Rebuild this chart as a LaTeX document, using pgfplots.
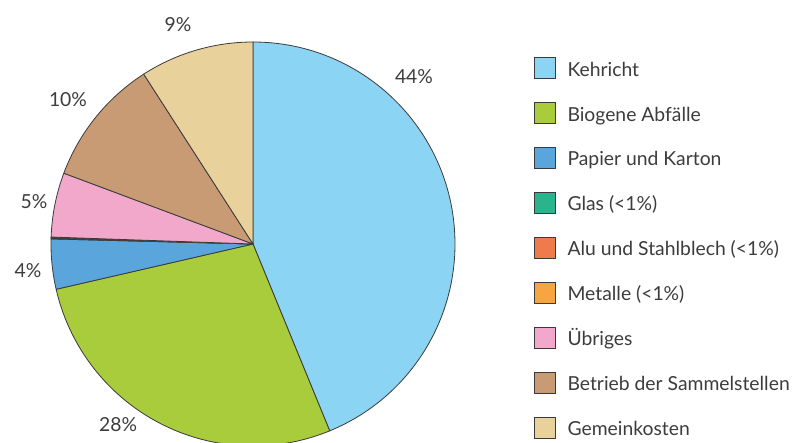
\documentclass[border=0pt]{standalone}
\usepackage{pgfplots}
\pgfplotsset{compat=1.18}
\usepackage{fontspec}
\setmainfont{Lato}
\definecolor{edgec}{HTML}{3A3A3A}
\definecolor{txt}{HTML}{3C3C3C}
\definecolor{c1}{HTML}{8CD4F4}
\definecolor{c2}{HTML}{A9CC3C}
\definecolor{c3}{HTML}{5AA5DC}
\definecolor{c4}{HTML}{2BB38E}
\definecolor{c5}{HTML}{EF7A4C}
\definecolor{c6}{HTML}{F7A541}
\definecolor{c7}{HTML}{F2A8CB}
\definecolor{c8}{HTML}{C99B74}
\definecolor{c9}{HTML}{E8D19B}
\def\R{151.5pt}
% sector: cumulative start (%), cumulative end (%), colour
\newcommand{\sector}[3]{%
  \filldraw[fill=#3, draw=edgec, line width=0.6pt, line join=round]
    (axis cs:0,0) -- ++({90-3.6*#1}:\R)
    arc[start angle={90-3.6*#1}, end angle={90-3.6*#2}, radius=\R] -- cycle;}
\begin{document}
\begin{tikzpicture}
\path[use as bounding box] (-189.75pt,183pt) rectangle (405.75pt,-149.25pt);
\begin{axis}[
  at={(0,0)}, anchor=center,
  x=151.5pt, y=151.5pt,
  xmin=-1, xmax=1, ymin=-1, ymax=1,
  hide axis, clip=false,
  font=\fontsize{14.5}{16}\selectfont\color{txt},
  legend image code/.code={\draw[#1, draw=edgec, line width=0.6pt] (0pt,-6.8pt) rectangle (15.75pt,8.95pt);},
  legend cell align=left,
  legend style={at={(axis cs:1.391,0.926)}, anchor=north west, draw=none, fill=none,
    inner sep=0pt, row sep=16.6pt, font=\fontsize{14.5}{16}\selectfont\color{txt},
    nodes={inner sep=0pt, text height=12.75pt, text depth=3pt},
    /tikz/every odd column/.append style={column sep=8.6pt}},
]
% values (%): Kehricht 43.8, Biogene 27.6, Papier 4.0, Glas 0.05, Alu 0.05, Metalle 0.05, Uebriges 5.15, Betrieb 10.2, Gemeinkosten 9.1
\sector{0}{43.8}{c1}
\sector{43.8}{71.4}{c2}
\sector{71.4}{75.4}{c3}
\sector{75.4}{75.45}{c4}
\sector{75.45}{75.5}{c5}
\sector{75.5}{75.55}{c6}
\sector{75.55}{80.7}{c7}
\sector{80.7}{90.9}{c8}
\sector{90.9}{100}{c9}
\node at (axis cs:0.797,0.827) {44\%};
\node at (axis cs:-0.371,1.084) {9\%};
\node at (axis cs:-0.916,0.713) {10\%};
\node at (axis cs:-1.084,0.208) {5\%};
\node at (axis cs:-1.114,-0.134) {4\%};
\node at (axis cs:-0.668,-0.896) {28\%};
\addlegendimage{fill=c1}\addlegendentry{Kehricht}
\addlegendimage{fill=c2}\addlegendentry{Biogene Abfälle}
\addlegendimage{fill=c3}\addlegendentry{Papier und Karton}
\addlegendimage{fill=c4}\addlegendentry{Glas (<1\%)}
\addlegendimage{fill=c5}\addlegendentry{Alu und Stahlblech (<1\%)}
\addlegendimage{fill=c6}\addlegendentry{Metalle (<1\%)}
\addlegendimage{fill=c7}\addlegendentry{Übriges}
\addlegendimage{fill=c8}\addlegendentry{Betrieb der Sammelstellen}
\addlegendimage{fill=c9}\addlegendentry{Gemeinkosten}
\end{axis}
\end{tikzpicture}
\end{document}
